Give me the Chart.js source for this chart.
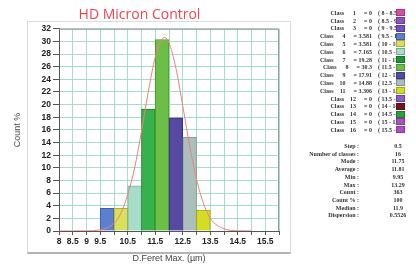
<!DOCTYPE html>
<html>
<head>
<meta charset="utf-8">
<script src="https://cdn.jsdelivr.net/npm/chart.js@4.4.0/dist/chart.umd.min.js"></script>
<style>
  body { margin: 0; width: 416px; height: 266px; background: #fff; position: relative; overflow: hidden; }
  #frame { position: absolute; left: 27px; top: 21px; width: 262px; height: 230px; border: 1px solid #dcdcdc; border-bottom: 2px solid #b4b4b4; }
  #chart { position: absolute; left: 0; top: 0; }
  #panel { position: absolute; left: 0; top: 0; width: 416px; height: 266px; font: bold 6px 'Liberation Serif', serif; color: #333; }
  .row { position: absolute; white-space: nowrap; line-height: 8px; }
  .num { display: inline-block; width: 12px; text-align: right; }
  .val { margin-left: 8px; }
  .rng { position: absolute; left: 378px; width: 18px; overflow: hidden; white-space: nowrap; line-height: 8px; }
  .box { position: absolute; left: 396px; width: 9px; height: 7px; box-sizing: border-box; border: 1px solid rgba(0,0,0,0.25); }
  .slab { position: absolute; right: 57px; text-align: right; white-space: nowrap; line-height: 8px; }
  .sval { position: absolute; left: 383px; width: 30px; text-align: center; line-height: 8px; }
</style>
</head>
<body>
<div id="frame"></div>
<canvas id="chart" width="310" height="266"></canvas>
<div id="panel"></div>
<script>
// histogram bins (centre of each 0.5 wide class) and their share in %
const binCenters = [9.75, 10.25, 10.75, 11.25, 11.75, 12.25, 12.75, 13.25];
const countPct = [3.581, 3.581, 7.165, 19.28, 30.3, 17.91, 14.88, 3.306];
const barColors = ['#5b80cf', '#d9e05c', '#a7dccb', '#37b14b', '#6bbf46', '#5649a3', '#abbfbd', '#d4dc24'];
const barEdges = ['#3f5fa8', '#a9ad3a', '#78b3a2', '#217a30', '#489a2c', '#382d7c', '#7e9492', '#a3aa14'];

// red fitted curve
const curveX = [8, 8.5, 9, 9.25, 9.5, 9.75, 10, 10.25, 10.5, 10.75, 11, 11.25, 11.5, 11.75, 11.85, 12, 12.25, 12.5, 12.75, 13, 13.25, 13.5, 13.75, 14, 14.25, 14.5, 15];
const curveY = [0, 0, 0.02, 0.05, 0.2, 0.5, 1.2, 2.8, 5.8, 10, 15.8, 22.1, 27.5, 30.4, 30.6, 29.8, 25.8, 19.8, 13.5, 8.2, 4.4, 2.0, 0.9, 0.35, 0.1, 0.03, 0];

const xTickLabels = ['8', '8.5', '9', '9.5', '10.5', '11.5', '12.5', '13.5', '14.5', '15.5'];

// side table
const classValues = ['0', '0', '0', '3.581', '3.581', '7.165', '19.28', '30.3', '17.91', '14.88', '3.306', '0', '0', '0', '0', '0'];
const classRanges = ['8 - 8.5', '8.5 - 9', '9 - 9.5', '9.5 - 10', '10 - 10.5', '10.5 - 11', '11 - 11.5', '11.5 - 12',
  '12 - 12.5', '12.5 - 13', '13 - 13.5', '13.5 - 14', '14 - 14.5', '14.5 - 15', '15 - 15.5', '15.5 - 16'];
const classColors = ['#d24fa2', '#9352c4', '#6e52c6', '#5b80cf', '#d9e05c', '#a7dccb', '#1f9636', '#6bbf46',
  '#5649a3', '#abbfbd', '#d4dc24', '#8a5cc8', '#7a1226', '#2aa03c', '#b04fc4', '#b04fc4'];
const statLabels = ['Step :', 'Number of classes :', 'Mode :', 'Average :', 'Min :', 'Max :', 'Count :', 'Count % :', 'Median :', 'Dispersion :'];
const statValues = ['0.5', '16', '11.75', '11.81', '9.95', '13.29', '363', '100', '11.9', '0.5526'];

const plotBorder = {
  id: 'plotBorder',
  afterDraw(chart) {
    const { ctx, chartArea: a } = chart;
    ctx.save();
    ctx.strokeStyle = '#9a9a9a';
    ctx.lineWidth = 1;
    ctx.beginPath();
    ctx.moveTo(a.left, a.top + 0.5);
    ctx.lineTo(a.right - 0.5, a.top + 0.5);
    ctx.lineTo(a.right - 0.5, a.bottom);
    ctx.stroke();
    ctx.restore();
  }
};

const tickFont = { family: 'Liberation Sans', size: 8.5, weight: 'bold' };

new Chart(document.getElementById('chart'), {
  type: 'bar',
  data: {
    datasets: [
      {
        type: 'line',
        data: curveX.map((x, i) => ({ x: x, y: curveY[i] })),
        borderColor: '#ee7f80',
        borderWidth: 1,
        pointRadius: 0,
        cubicInterpolationMode: 'monotone',
        order: 0
      },
      {
        data: binCenters.map((x, i) => ({ x: x, y: countPct[i] })),
        backgroundColor: barColors,
        borderColor: barEdges,
        borderWidth: 1,
        barPercentage: 1,
        categoryPercentage: 1,
        order: 1
      }
    ]
  },
  options: {
    responsive: false,
    animation: false,
    layout: { padding: { right: 31 } },
    plugins: {
      legend: { display: false },
      tooltip: { enabled: false },
      title: {
        display: true,
        text: 'HD Micron Control',
        color: '#ee4650',
        font: { family: 'Open Sans', size: 14, weight: 'normal' },
        padding: { top: 7, bottom: 5 }
      }
    },
    scales: {
      x: {
        type: 'linear',
        min: 8,
        max: 16,
        offset: false,
        grid: { offset: false, color: '#a8dcc8', tickColor: '#555', tickLength: 4 },
        border: { color: '#555' },
        ticks: {
          stepSize: 0.5,
          autoSkip: false,
          maxRotation: 0,
          padding: 2,
          color: '#222',
          font: tickFont,
          callback: (v) => xTickLabels.includes(String(v)) ? String(v) : ''
        },
        title: {
          display: true,
          text: 'D.Feret Max. (µm)',
          color: '#444',
          font: { family: 'Liberation Sans', size: 9 },
          padding: { top: 0, bottom: 2 }
        },
        afterFit: (s) => { s.height = 35; }
      },
      y: {
        min: 0,
        max: 32,
        grid: { color: '#a8dcc8', tickColor: '#555', tickLength: 6 },
        border: { color: '#555' },
        ticks: { stepSize: 2, autoSkip: false, padding: 2, color: '#222', font: tickFont },
        title: {
          display: true,
          text: 'Count %',
          color: '#444',
          font: { family: 'Liberation Sans', size: 9 },
          padding: { top: 12, bottom: 0 }
        },
        afterFit: (s) => { s.width = 59; }
      }
    }
  },
  plugins: [plotBorder]
});

// side panel
const panel = document.getElementById('panel');
classValues.forEach((v, i) => {
  const cy = 12.7 + 7.8 * i;
  const row = document.createElement('div');
  row.className = 'row';
  row.style.right = '44px';
  row.style.top = (cy - 4) + 'px';
  row.innerHTML = 'Class<span class="num">' + (i + 1) + '</span><span class="val">= ' + v + '</span>';
  panel.appendChild(row);

  const rng = document.createElement('div');
  rng.className = 'rng';
  rng.style.top = (cy - 4) + 'px';
  rng.textContent = '( ' + classRanges[i] + ' )';
  panel.appendChild(rng);

  const box = document.createElement('div');
  box.className = 'box';
  box.style.top = (cy - 3.5) + 'px';
  box.style.background = classColors[i];
  panel.appendChild(box);
});

statLabels.forEach((label, j) => {
  const cy = 146 + 7.7 * j;
  const l = document.createElement('div');
  l.className = 'slab';
  l.style.top = (cy - 4) + 'px';
  l.textContent = label;
  panel.appendChild(l);

  const v = document.createElement('div');
  v.className = 'sval';
  v.style.top = (cy - 4) + 'px';
  v.textContent = statValues[j];
  panel.appendChild(v);
});
</script>
</body>
</html>
